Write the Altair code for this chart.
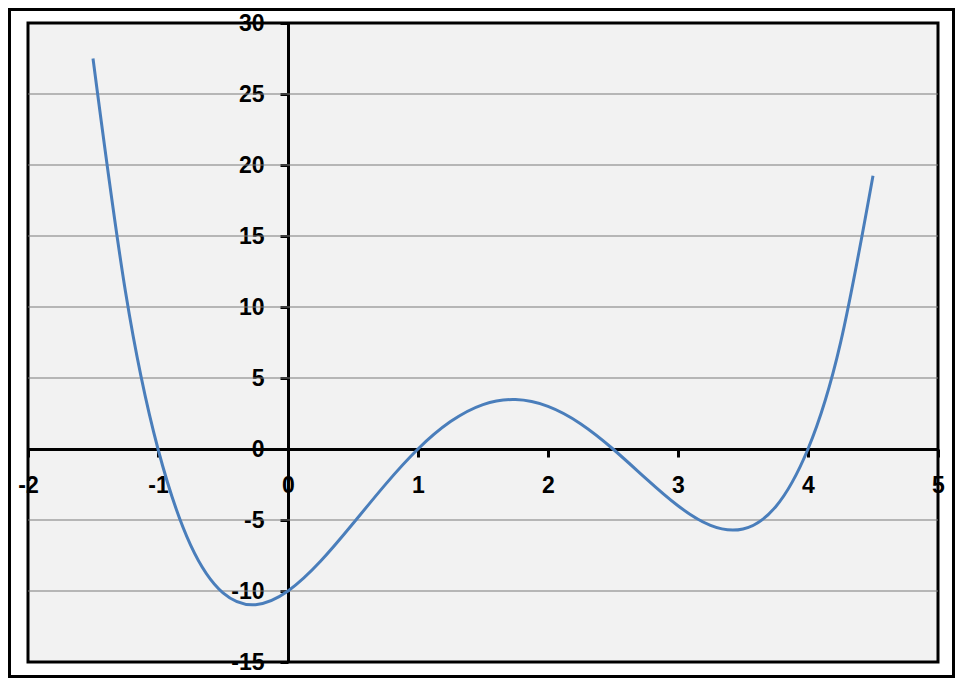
import altair as alt
import pandas as pd

# Curve samples
xs = [-1.5, -1.25, -1.0, -0.75, -0.5, -0.25, 0.0, 0.25, 0.5, 0.75, 1.0, 1.25, 1.5,
      1.75, 2.0, 2.25, 2.5, 2.75, 3.0, 3.25, 3.5, 3.75, 4.0, 4.25, 4.5]
ys = [27.5, 11.07, 0.0, -6.75, -10.13, -10.96, -10.0, -7.91, -5.25, -2.49, 0.0, 1.93, 3.13,
      3.48, 3.0, 1.78, 0.0, -2.05, -4.0, -5.38, -5.63, -4.08, 0.0, 7.47, 19.25]

x_ticks = [-2, -1, 0, 1, 2, 3, 4, 5]
y_ticks = [-15, -10, -5, 0, 5, 10, 15, 20, 25, 30]
grid_y = [-10, -5, 5, 10, 15, 20, 25]

W, H = 910, 639
FONT = "Liberation Sans"
FS = 23

curve = pd.DataFrame({"x": xs, "y": ys})
grid = pd.DataFrame({"y": grid_y})

xscale = alt.Scale(domain=[-2, 5], nice=False, zero=False)
yscale = alt.Scale(domain=[-15, 30], nice=False, zero=False)

x_axis = alt.Axis(
    values=x_ticks, orient="bottom", offset=-213, grid=False,
    domainColor="black", domainWidth=3, tickColor="black", tickWidth=3, tickSize=8,
    labelPadding=17, labelFont=FONT, labelFontSize=FS, labelFontWeight="bold",
    labelColor="black", labelOverlap=False, labelFlush=False, labelBound=False,
    title=None, labelExpr="'' + datum.value",
)
y_axis = alt.Axis(
    values=y_ticks, orient="left", offset=-260, grid=False,
    domainColor="black", domainWidth=3, tickColor="black", tickWidth=3, tickSize=8,
    labelPadding=16, labelFont=FONT, labelFontSize=FS, labelFontWeight="bold",
    labelColor="black", labelOverlap=False, labelFlush=False, labelBound=False,
    title=None, labelExpr="'' + datum.value",
)

grid_layer = alt.Chart(grid).mark_rule(color="#7a7a7a", strokeWidth=1).encode(
    y=alt.Y("y:Q", scale=yscale, axis=y_axis)
)

line_layer = alt.Chart(curve).mark_line(
    color="#4a7ebb", strokeWidth=3, interpolate="natural", clip=False
).encode(
    x=alt.X("x:Q", scale=xscale, axis=x_axis),
    y=alt.Y("y:Q", scale=yscale, axis=y_axis),
    order="x:Q",
)

border = alt.Chart(pd.DataFrame({"a": [0]})).mark_rect(
    fill=None, stroke="black", strokeWidth=3, clip=False
).encode(
    x=alt.value(-18.5), x2=alt.value(925.5), y=alt.value(-13.5), y2=alt.value(653.5)
)

chart = alt.layer(grid_layer, line_layer, border).properties(
    width=W, height=H,
    autosize=alt.AutoSizeParams(type="none"),
    padding={"left": 20, "top": 15, "right": 17, "bottom": 16},
    background="white",
).configure_view(
    stroke="black", strokeWidth=3, fill="#f2f2f2"
)

chart.save("out.html", embed_options={"renderer": "svg", "actions": False})
